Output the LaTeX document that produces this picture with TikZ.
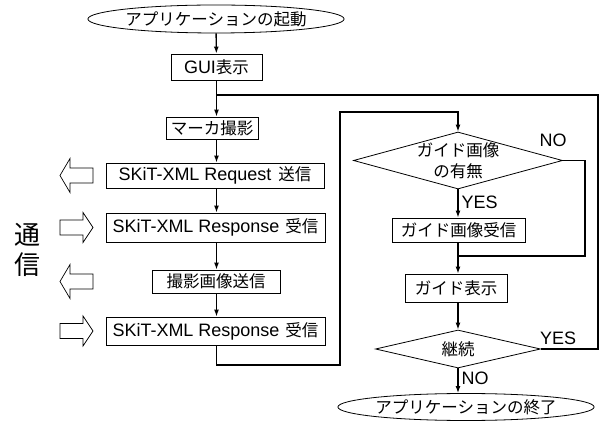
\documentclass[tikz,border=0pt]{standalone}
\usepackage{fontspec}
\setmainfont{Liberation Sans}[Scale=1.09]
\newfontfamily\cjk{Noto Sans CJK JP}
\newcommand\jtxt[1]{{\cjk #1}}
\usetikzlibrary{shapes.geometric,arrows.meta}
\begin{document}
\begin{tikzpicture}[x=1pt,y=-1pt,
  txtfont/.style={font=\fontsize{16.5}{19}\selectfont},
  box/.style={draw, line width=0.8pt, inner sep=0pt, txtfont},
  term/.style={ellipse, draw, line width=0.8pt, inner sep=0pt, txtfont},
  dia/.style={diamond, draw, line width=0.8pt, inner sep=0pt},
  conn/.style={line width=1.4pt},
  arr/.style={line width=1.4pt, -{Latex[length=7pt,width=5pt]}},
  lbl/.style={inner sep=0pt, font=\fontsize{16.5}{19}\selectfont},
  blockarrow/.style={draw, line width=0.7pt, fill=white}
]
\useasboundingbox (0,0) rectangle (602,427);

% left column
\node[term, minimum width=226pt, minimum height=28pt] (start) at (216,19) {\jtxt{アプリケーションの起動}};
\node[box, minimum width=91pt, minimum height=26pt] (gui) at (216.5,67) {GUI\jtxt{表示}};
\node[box, minimum width=92pt, minimum height=22pt] (marker) at (212,128) {\jtxt{マーカ撮影}};
\node[box, minimum width=218pt, minimum height=25pt] (req) at (215,175.5) {SKiT-XML Request\hspace{2pt} \jtxt{送信}};
\node[box, minimum width=219pt, minimum height=29pt] (resp1) at (215.5,227.5) {SKiT-XML Response\hspace{1pt} \jtxt{受信}};
\node[box, minimum width=128pt, minimum height=23pt] (img) at (216,281.5) {\jtxt{撮影画像送信}};
\node[box, minimum width=219pt, minimum height=28pt] (resp2) at (215.5,331) {SKiT-XML Response\hspace{1pt} \jtxt{受信}};

% right column
\node[dia, minimum width=209pt, minimum height=57pt] (d1) at (458,160.5) {};
\node[lbl, align=center, font=\fontsize{16.5}{21}\selectfont] (d1t) at (d1) {\jtxt{ガイド画像}\\\jtxt{の有無}};
\node[box, minimum width=133pt, minimum height=24pt] (gr) at (458.5,230) {\jtxt{ガイド画像受信}};
\node[box, minimum width=102pt, minimum height=28pt] (show) at (456,288) {\jtxt{ガイド表示}};
\node[dia, minimum width=165pt, minimum height=38pt] (c2) at (458,349) {};
\node[lbl] (c2t) at (c2) {\jtxt{継続}};
\node[term, minimum width=207pt, minimum height=27pt] (end) at (466,407) {\jtxt{アプリケーションの終了}};

% coordinates for connectors
\coordinate (j1) at (216.5,95);
\coordinate (r1) at (598,95);
\coordinate (b1) at (340,365);
\coordinate (t1) at (340,112);
\coordinate (n1) at (585,160.5);
\coordinate (j2) at (458,256);

% connectors left column
\draw[arr] (start) -- (gui);
\draw[arr] (gui) -- (gui |- marker.north);
\draw[arr] (marker.south -| gui) -- (gui |- req.north);
\draw[arr] (gui |- req.south) -- (gui |- resp1.north);
\draw[arr] (gui |- resp1.south) -- (gui |- img.north);
\draw[arr] (gui |- img.south) -- (gui |- resp2.north);
\draw[arr] (gui |- resp2.south) |- (b1) -- (t1) -| (d1.north);

% right column
\draw[arr] (d1.south) -- node[lbl, right=3pt, pos=0.45] {YES} (gr.north -| d1.south);
\draw[conn] (d1.east) -- (n1) |- (j2);
\draw[arr] (gr.south -| d1.south) -- (show.north -| d1.south);
\draw[arr] (show.south -| c2.north) -- (c2.north);
\draw[conn] (c2.east) -| (r1) -- (j1);
\draw[arr] (c2.south) -- node[lbl, right=3pt, pos=0.4] {NO} (c2.south |- end.north);

% labels
\node[lbl] (nolbl) at (553,140) {NO};
\node[lbl] (yeslbl) at (558,338) {YES};

% communication arrows
\draw[blockarrow] (60,175.5) -- (70,158.5) -- (70,168) -- (93,168) -- (93,183) -- (70,183) -- (70,192.5) -- cycle;
\draw[blockarrow] (93,227.5) -- (83,212.5) -- (83,220) -- (60,220) -- (60,235) -- (83,235) -- (83,242.5) -- cycle;
\draw[blockarrow] (60,281.5) -- (70,264.5) -- (70,274) -- (93,274) -- (93,289) -- (70,289) -- (70,298.5) -- cycle;
\draw[blockarrow] (93,331) -- (83,316) -- (83,323.5) -- (60,323.5) -- (60,338.5) -- (83,338.5) -- (83,346) -- cycle;

\node[inner sep=0pt, font=\fontsize{26}{27}\selectfont\cjk] (tsu) at (27.5,235) {通};
\node[inner sep=0pt, font=\fontsize{26}{27}\selectfont\cjk] (shin) at (27.5,264.5) {信};
\end{tikzpicture}
\end{document}
